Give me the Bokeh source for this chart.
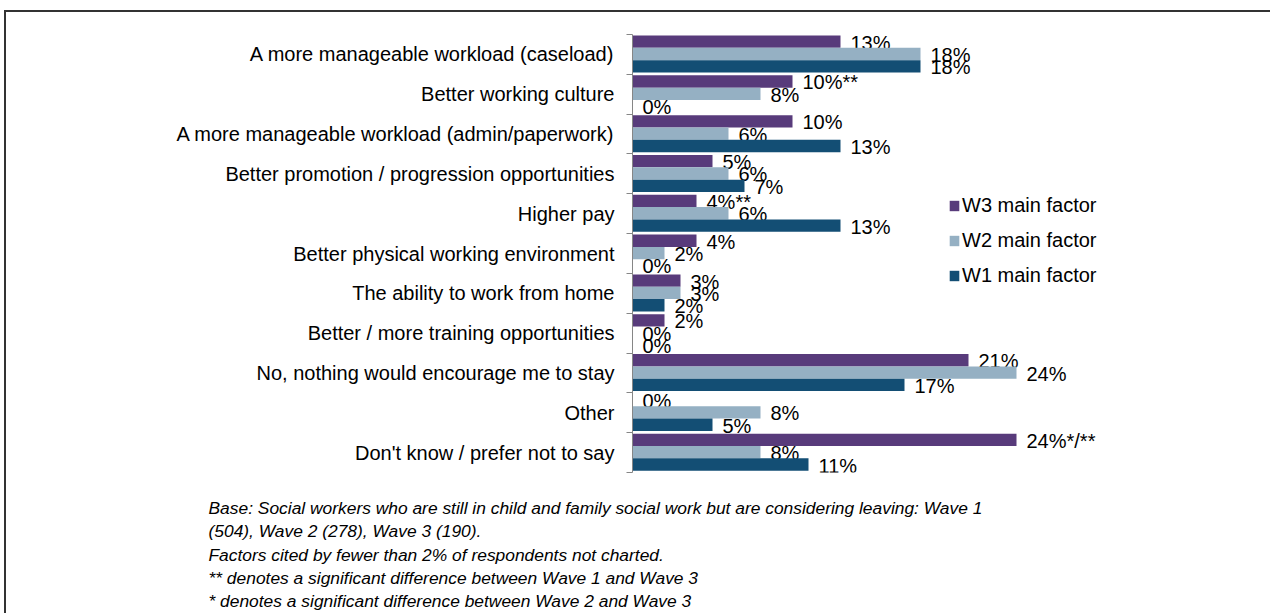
from bokeh.plotting import figure
from bokeh.layouts import column
from bokeh.models import (ColumnDataSource, FixedTicker, Range1d, Legend, LegendItem)
from bokeh.core.properties import value
from bokeh.embed import file_html
from bokeh.resources import INLINE

categories = [
    "A more manageable workload (caseload)",
    "Better working culture",
    "A more manageable workload (admin/paperwork)",
    "Better promotion / progression opportunities",
    "Higher pay",
    "Better physical working environment",
    "The ability to work from home",
    "Better / more training opportunities",
    "No, nothing would encourage me to stay",
    "Other",
    "Don't know / prefer not to say",
]
w3_values = [13, 10, 10, 5, 4, 4, 3, 2, 21, 0, 24]
w2_values = [18, 8, 6, 6, 6, 2, 3, 0, 24, 8, 8]
w1_values = [18, 0, 13, 7, 13, 0, 2, 0, 17, 5, 11]
w3_marks = ["", "**", "", "", "**", "", "", "", "", "", "*/**"]
w2_marks = [""] * 11
w1_marks = [""] * 11
series_names = ["W3 main factor", "W2 main factor", "W1 main factor"]
series_colors = ["#583b7b", "#95b0c3", "#134e74"]
footnotes = [
    "Base: Social workers who are still in child and family social work but are considering leaving: Wave 1",
    "(504), Wave 2 (278), Wave 3 (190).",
    "Factors cited by fewer than 2% of respondents not charted.",
    "** denotes a significant difference between Wave 1 and Wave 3",
    "* denotes a significant difference between Wave 2 and Wave 3",
]

FONT = "Liberation Sans"
MX, MY, B = 4, 10, 2
ox, oy = MX + B, MY + B
W = 1264
frame_left, frame_top, frame_bottom, frame_right = 632, 34, 472, 1250
H1 = frame_bottom + 6 - oy
H2 = 613 - (oy + H1)
PX_PER_PCT = 16.0
n = len(categories)

p = figure(width=W, height=H1, output_backend="svg", toolbar_location=None,
           x_range=Range1d(0, (frame_right - frame_left) / PX_PER_PCT),
           y_range=Range1d(n, 0), x_axis_location=None,
           min_border_left=frame_left - ox, min_border_top=frame_top - oy,
           min_border_bottom=(oy + H1) - frame_bottom, min_border_right=(ox + W) - frame_right)
p.outline_line_color = None
p.grid.visible = False

ax = p.yaxis[0]
ax.ticker = FixedTicker(ticks=[i + 0.5 for i in range(n)], minor_ticks=list(range(n + 1)))
ax.major_label_overrides = {i + 0.5: c for i, c in enumerate(categories)}
ax.bounds = (0, n)
ax.axis_line_color = "#868686"
ax.minor_tick_line_color = "#868686"
ax.minor_tick_out = 6
ax.minor_tick_in = 0
ax.major_tick_out = 0
ax.major_tick_in = 0
ax.major_label_standoff = 12
ax.major_label_text_font = FONT
ax.major_label_text_font_size = "20px"
ax.major_label_text_color = "#000000"

dodge = [-0.32, -0.01, 0.30]
bar_h = 0.31
items = []
for vals, marks, name, col, d in zip([w3_values, w2_values, w1_values],
                                     [w3_marks, w2_marks, w1_marks],
                                     series_names, series_colors, dodge):
    src = ColumnDataSource(dict(
        y=[i + 0.5 + d for i in range(n)],
        v=vals,
        lab=[f"{v}%{m}" for v, m in zip(vals, marks)],
    ))
    r = p.hbar(y="y", left=0, right="v", height=bar_h, source=src,
               fill_color=col, line_color=None)
    p.text(x="v", y="y", text="lab", source=src, x_offset=10, y_offset=1,
           text_baseline="middle", text_align="left",
           text_font=value(FONT), text_font_size="20px", text_color="#000000")
    items.append(LegendItem(label=name, renderers=[r]))

legend = Legend(items=items, location=(316, 185), orientation="vertical",
                padding=0, margin=0, spacing=12, label_standoff=2,
                glyph_width=12, glyph_height=13, label_height=22,
                label_text_font=FONT, label_text_font_size="20px",
                label_text_color="#000000",
                border_line_color=None, background_fill_alpha=0)
p.add_layout(legend)

# footnote panel (pixel coordinates)
notes = figure(width=W, height=H2, output_backend="svg", toolbar_location=None,
               x_range=Range1d(0, W), y_range=Range1d(H2, 0),
               x_axis_location=None, y_axis_location=None, min_border=0)
notes.outline_line_color = None
notes.grid.visible = False
p.frame_align = False
notes.frame_align = False
top2 = oy + H1
baselines = [507, 530.5, 554, 577, 600.5]
nsrc = ColumnDataSource(dict(x=[208 - ox] * len(footnotes),
                             y=[b - top2 for b in baselines], t=footnotes))
notes.text(x="x", y="y", text="t", source=nsrc, text_baseline="alphabetic",
           text_font=value(FONT), text_font_style="italic",
           text_font_size="17.4px", text_color="#000000")

layout = column(p, notes, spacing=0,
                styles={"border-top": "2px solid #333", "border-left": "2px solid #333",
                        "margin-left": f"{MX}px", "margin-top": f"{MY}px"})

open("out.html", "w").write(file_html(layout, INLINE))
